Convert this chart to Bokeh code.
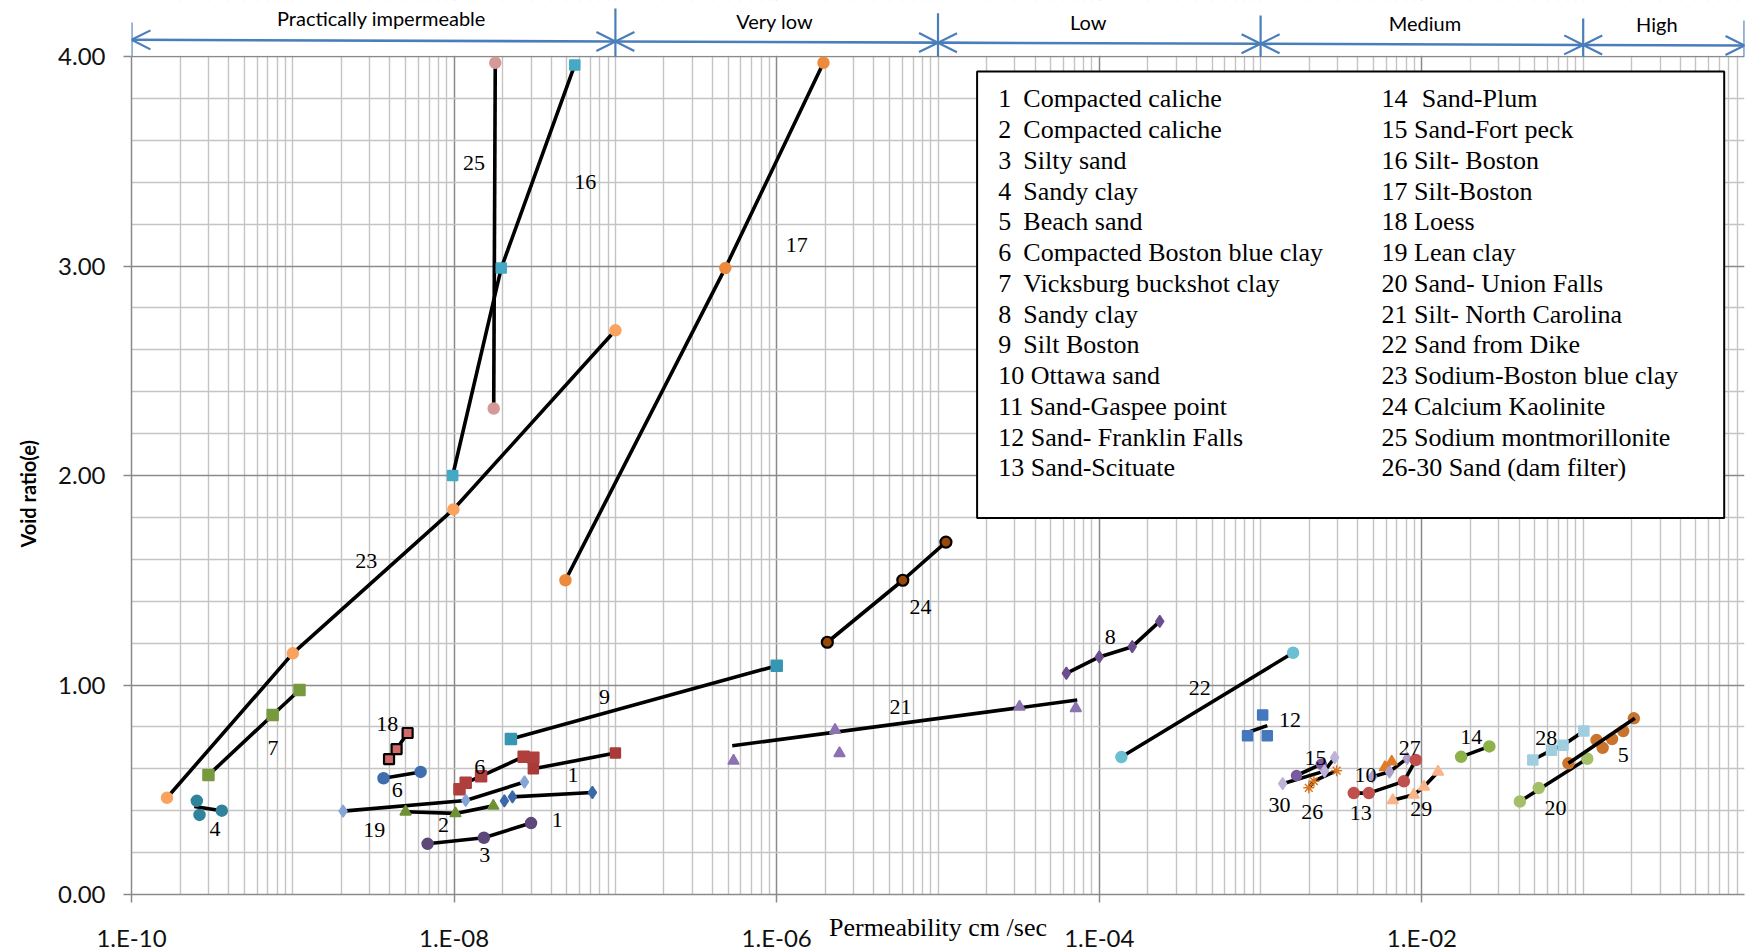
import math

from bokeh.core.properties import value
from bokeh.embed import file_html
from bokeh.models import (Arrow, CustomJSTickFormatter, FixedTicker, OpenHead,
                          PrintfTickFormatter, Range1d, Title)
from bokeh.plotting import figure
from bokeh.resources import INLINE

# ------------------------------------------------------------------
# Permeability k (cm/sec) and void ratio e, one pair of lists per soil.
# "_fit" lists hold the straight line drawn through a scattered set.
# ------------------------------------------------------------------
s1_k = [2.05e-8, 2.3e-8, 7.2e-8]
s1_e = [0.447, 0.466, 0.487]
s1b_k = [3.1e-8, 1.0e-7]
s1b_e = [0.600, 0.675]
s2_k = [5.0e-9, 1.02e-8, 1.75e-8]
s2_e = [0.395, 0.387, 0.423]
s3_k = [6.85e-9, 1.53e-8, 3.0e-8]
s3_e = [0.242, 0.271, 0.341]
s4_k = [2.54e-10, 2.64e-10, 3.63e-10]
s4_e = [0.447, 0.380, 0.400]
s4_fit_k = [2.45e-10, 3.63e-10]
s4_fit_e = [0.420, 0.400]
s5_k = [8.1e-2, 0.121, 0.132, 0.151, 0.177, 0.206]
s5_e = [0.626, 0.737, 0.700, 0.742, 0.780, 0.841]
s5_fit_k = [8.1e-2, 0.209]
s5_fit_e = [0.626, 0.841]
s6_k = [3.65e-9, 6.2e-9]
s6_e = [0.555, 0.585]
s6b_k = [1.08e-8, 1.18e-8, 1.47e-8, 2.7e-8, 3.1e-8]
s6b_e = [0.502, 0.533, 0.565, 0.658, 0.653]
s6b_fit_k = [1.18e-8, 1.47e-8, 2.7e-8]
s6b_fit_e = [0.533, 0.565, 0.658]
s7_k = [3.0e-10, 7.5e-10, 1.1e-9]
s7_e = [0.570, 0.857, 0.976]
s8_k = [6.25e-5, 1.0e-4, 1.6e-4, 2.37e-4]
s8_e = [1.056, 1.134, 1.183, 1.304]
s9_k = [2.25e-8, 1.0e-6]
s9_e = [0.742, 1.092]
s10_k = [5.9e-3, 6.5e-3]
s10_e = [0.607, 0.634]
s12_k = [8.3e-4, 1.03e-3, 1.1e-3]
s12_e = [0.758, 0.857, 0.758]
s12_fit_k = [8.2e-4, 1.1e-3]
s12_fit_e = [0.772, 0.806]
s13_k = [3.78e-3, 4.69e-3, 7.73e-3, 9.17e-3]
s13_e = [0.484, 0.484, 0.540, 0.642]
s14_k = [1.75e-2, 2.62e-2]
s14_e = [0.657, 0.707]
s15_k = [1.67e-3, 2.38e-3]
s15_e = [0.568, 0.622]
s16_k = [9.8e-9, 1.96e-8, 5.6e-8]
s16_e = [2.00, 2.99, 3.96]
s17_k = [4.9e-8, 4.8e-7, 1.95e-6]
s17_e = [1.50, 2.99, 3.97]
s18_k = [3.95e-9, 4.4e-9, 5.15e-9]
s18_e = [0.646, 0.694, 0.771]
s19_k = [2.05e-9, 1.18e-8, 2.73e-8]
s19_e = [0.398, 0.449, 0.537]
s20_k = [4.05e-2, 5.3e-2, 0.106]
s20_e = [0.444, 0.508, 0.648]
s20_fit_k = [4.05e-2, 0.101]
s20_fit_e = [0.444, 0.638]
s21_k = [5.4e-7, 2.3e-6, 2.45e-6, 3.2e-5, 7.15e-5]
s21_e = [0.638, 0.785, 0.674, 0.896, 0.889]
s21_fit_k = [5.3e-7, 7.3e-5]
s21_fit_e = [0.710, 0.928]
s22_k = [1.37e-4, 1.59e-3]
s22_e = [0.656, 1.154]
s23_k = [1.66e-10, 1.0e-9, 9.9e-9, 1.0e-7]
s23_e = [0.462, 1.151, 1.838, 2.693]
s24_k = [2.06e-6, 6.05e-6, 1.12e-5]
s24_e = [1.204, 1.500, 1.682]
s25_k = [1.80e-8, 1.76e-8]
s25_e = [3.97, 2.32]
s26_k = [1.99e-3, 2.14e-3, 2.96e-3]
s26_e = [0.509, 0.541, 0.591]
s27_k = [4.95e-3, 6.3e-3, 8.1e-3]
s27_e = [0.562, 0.586, 0.650]
s28_k = [4.87e-2, 6.36e-2, 7.5e-2, 0.101]
s28_e = [0.642, 0.689, 0.712, 0.780]
s29_k = [6.6e-3, 8.9e-3, 1.03e-2, 1.26e-2]
s29_e = [0.450, 0.476, 0.514, 0.586]
s30_k = [1.37e-3, 2.49e-3, 2.88e-3]
s30_e = [0.529, 0.589, 0.654]

# Permeability classes shown above the chart
CLASS_NAMES = ["Practically impermeable", "Very low", "Low", "Medium", "High"]
CLASS_EDGES = [1e-10, 1e-7, 1e-5, 1e-3, 1e-1, 1e0]

# Key entries (number, soil)
KEY_LEFT = [("1", "Compacted caliche"), ("2", "Compacted caliche"),
            ("3", "Silty sand"), ("4", "Sandy clay"), ("5", "Beach sand"),
            ("6", "Compacted Boston blue clay"), ("7", "Vicksburg buckshot clay"),
            ("8", "Sandy clay"), ("9", "Silt Boston"), ("10", "Ottawa sand"),
            ("11", "Sand-Gaspee point"), ("12", "Sand- Franklin Falls"),
            ("13", "Sand-Scituate")]
KEY_RIGHT = [("14", "Sand-Plum"), ("15", "Sand-Fort peck"), ("16", "Silt- Boston"),
             ("17", "Silt-Boston"), ("18", "Loess"), ("19", "Lean clay"),
             ("20", "Sand- Union Falls"), ("21", "Silt- North Carolina"),
             ("22", "Sand from Dike"), ("23", "Sodium-Boston blue clay"),
             ("24", "Calcium Kaolinite"), ("25", "Sodium montmorillonite"),
             ("26-30", "Sand (dam filter)")]

# ------------------------------------------------------------------
# Series table: points, marker, colour, and the black line drawn for it
# ------------------------------------------------------------------
series = [
    # (k, e, marker, size, fill, outline, line_k, line_e)
    (s23_k, s23_e, "circle", 11, "#F9A35E", None, s23_k, s23_e),
    (s16_k, s16_e, "square", 10, "#43A9C4", None, s16_k, s16_e),
    (s25_k, s25_e, "circle", 11, "#D59A98", None, s25_k, s25_e),
    (s17_k, s17_e, "circle", 11, "#EE8A3C", None, s17_k, s17_e),
    (s7_k, s7_e, "square", 11, "#779A3E", None, s7_k, s7_e),
    (s4_k, s4_e, "circle", 11, "#2F849B", None, s4_fit_k, s4_fit_e),
    (s18_k, s18_e, "square", 10, "#D26A6A", "black", s18_k, s18_e),
    (s6_k, s6_e, "circle", 11, "#3F6EAF", None, s6_k, s6_e),
    (s6b_k, s6b_e, "square", 11, "#AF3F3D", None, s6b_fit_k, s6b_fit_e),
    (s1b_k, s1b_e, "square", 10, "#A83A38", None, s1b_k, s1b_e),
    (s19_k, s19_e, "diamond", 12, "#86A5D6", None, s19_k, s19_e),
    (s1_k, s1_e, "diamond", 12, "#3A68A8", None, s1_k[1:], s1_e[1:]),
    (s2_k, s2_e, "triangle", 11, "#6F9035", None, s2_k, s2_e),
    (s3_k, s3_e, "circle", 11, "#5E4879", None, s3_k, s3_e),
    (s9_k, s9_e, "square", 11, "#3797B2", None, s9_k, s9_e),
    (s24_k, s24_e, "circle", 11, "#984807", "black", s24_k, s24_e),
    (s21_k, s21_e, "triangle", 11, "#8B72B1", None, s21_fit_k, s21_fit_e),
    (s8_k, s8_e, "diamond", 12, "#6A4E8C", None, s8_k, s8_e),
    (s22_k, s22_e, "circle", 11, "#6CBFD2", None, s22_k, s22_e),
    (s12_k, s12_e, "square", 10, "#4477BB", None, s12_fit_k, s12_fit_e),
    (s15_k, s15_e, "circle", 10, "#7A5A9E", None, s15_k, s15_e),
    (s30_k, s30_e, "diamond", 12, "#BDB3D9", None, s30_k, s30_e),
    (s26_k, s26_e, "asterisk", 11, "#D9761F", None, s26_k, s26_e),
    (s10_k, s10_e, "triangle", 11, "#E07B28", None, s10_k, s10_e),
    (s27_k, s27_e, "diamond", 12, "#ACA0C8", None, s27_k, s27_e),
    (s13_k, s13_e, "circle", 11, "#C0504D", None, s13_k, s13_e),
    (s29_k, s29_e, "triangle", 11, "#FAB48A", None, s29_k, s29_e),
    (s14_k, s14_e, "circle", 11, "#8DB24A", None, s14_k, s14_e),
    (s28_k, s28_e, "square", 10, "#A0CEE0", None, s28_k, s28_e),
    (s20_k, s20_e, "circle", 11, "#A3C068", None, s20_fit_k, s20_fit_e),
    (s5_k, s5_e, "circle", 11, "#C8742E", None, s5_fit_k, s5_fit_e),
]

# Curve numbers written next to the curves: (text, k, e)
curve_tags = [
    ("23", 2.85e-9, 1.593), ("25", 1.33e-8, 3.49), ("16", 6.5e-8, 3.40),
    ("17", 1.33e-6, 3.10), ("7", 7.55e-10, 0.698), ("4", 3.29e-10, 0.315),
    ("18", 3.85e-9, 0.814), ("6", 4.44e-9, 0.498), ("6", 1.44e-8, 0.61),
    ("1", 5.45e-8, 0.57), ("1", 4.36e-8, 0.355), ("9", 8.55e-8, 0.944),
    ("19", 3.2e-9, 0.307), ("2", 8.6e-9, 0.331), ("3", 1.55e-8, 0.188),
    ("24", 7.8e-6, 1.371), ("21", 5.85e-6, 0.893), ("8", 1.17e-4, 1.231),
    ("22", 4.2e-4, 0.987), ("12", 1.52e-3, 0.833), ("15", 2.19e-3, 0.65),
    ("30", 1.31e-3, 0.427), ("26", 2.09e-3, 0.395), ("10", 4.47e-3, 0.57),
    ("27", 8.4e-3, 0.697), ("13", 4.17e-3, 0.39), ("29", 9.9e-3, 0.406),
    ("14", 2.02e-2, 0.753), ("28", 5.9e-2, 0.748), ("5", 0.177, 0.666),
    ("20", 6.73e-2, 0.411),
]

# ------------------------------------------------------------------
# Layout: one frame holds the class band (above e = 4) and the chart
# ------------------------------------------------------------------
W, H = 1748, 952
LEFT, RIGHT, BOTTOM = 131, 4, 58
GRID_TOP = 56                      # page row of the e = 4.00 line
K_MIN, K_MAX = 1e-10, 1.0
E_MAX = 4.0

FRAME_W = W - LEFT - RIGHT
FRAME_H = H - BOTTOM
PX_DEC = FRAME_W / math.log10(K_MAX / K_MIN)
PX_UNIT = (FRAME_H - GRID_TOP) / E_MAX
E_TOP = FRAME_H / PX_UNIT


def k_at(px):
    """Permeability at a page x position inside the frame."""
    return K_MIN * 10 ** ((px - LEFT) / PX_DEC)


def e_at(py):
    """Void ratio at a page y position inside the frame."""
    return E_TOP - py / PX_UNIT


MAJOR_GRID = "#8A8A8A"
MINOR_GRID = "#C4C4C4"
SERIF = "Liberation Serif"
SANS = "Lato"
BLUE = "#4A7EBB"

p = figure(width=W, height=H, x_axis_type="log",
           x_range=Range1d(K_MIN, K_MAX), y_range=Range1d(0, E_TOP),
           output_backend="svg", toolbar_location=None, title=None,
           min_border_left=LEFT, min_border_right=RIGHT,
           min_border_top=0, min_border_bottom=BOTTOM)
p.outline_line_color = None
p.background_fill_color = "white"
p.border_fill_color = "white"

x_major = [10.0 ** n for n in range(-10, -1, 2)]
x_minor = [d * 10.0 ** n for n in range(-10, 0) for d in range(1, 10)
           if not (d == 1 and n % 2 == 0)] + [1.0]
p.xaxis.ticker = FixedTicker(ticks=x_major, minor_ticks=x_minor)
p.xaxis.formatter = CustomJSTickFormatter(code="""
    const n = Math.round(Math.log10(tick));
    const a = Math.abs(n);
    return "1.E" + (n < 0 ? "-" : "+") + (a < 10 ? "0" + a : "" + a);
""")
y_major = [0, 1, 2, 3, 4]
y_minor = [round(0.2 * i, 1) for i in range(1, 20) if i % 5]
p.yaxis.ticker = FixedTicker(ticks=y_major, minor_ticks=y_minor)
p.yaxis.formatter = PrintfTickFormatter(format="%.2f")
p.yaxis.bounds = (0, E_MAX)

for ax in (p.xaxis, p.yaxis):
    ax.axis_line_color = MAJOR_GRID
    ax.axis_line_width = 1.5
    ax.major_tick_line_color = MAJOR_GRID
    ax.major_tick_line_width = 1.5
    ax.major_tick_out = 8
    ax.major_tick_in = 0
    ax.minor_tick_line_color = None
    ax.major_label_text_font = SANS
    ax.major_label_text_font_size = "24px"
    ax.major_label_text_color = "#111111"
p.xaxis.major_label_standoff = 20
p.yaxis.major_label_standoff = 18

p.xaxis.axis_label = "Permeability cm /sec"
p.xaxis.axis_label_text_font = SERIF
p.xaxis.axis_label_text_font_style = "normal"
p.xaxis.axis_label_text_font_size = "26px"
p.xaxis.axis_label_text_color = "black"
p.xaxis.axis_label_standoff = -42

# y title sits below the middle of the axis: start it at a fixed offset
# from the bottom of the frame and let it run upwards
p.add_layout(Title(text="Void ratio(e)", align="left", offset=347,
                   vertical_align="middle", standoff=29,
                   text_font=SANS, text_font_style="bold",
                   text_font_size="20px", text_color="black"), "left")

for g in (p.xgrid, p.ygrid):
    g.grid_line_color = MAJOR_GRID
    g.grid_line_width = 1.5
    g.minor_grid_line_color = MINOR_GRID
    g.minor_grid_line_width = 1.4

# black lines under the markers, except the fit that crosses its points
for k, e, marker, size, fill, outline, lk, le in series:
    if lk is not s5_fit_k:
        p.line(lk, le, line_color="black", line_width=3.6)
for k, e, marker, size, fill, outline, lk, le in series:
    p.scatter(k, e, marker=marker, size=size, fill_color=fill,
              line_color=outline if outline else fill,
              line_width=2.2 if outline else 1.5)
p.line(s5_fit_k, s5_fit_e, line_color="black", line_width=3.6)

p.text(x=[t[1] for t in curve_tags], y=[t[2] for t in curve_tags],
       text=[t[0] for t in curve_tags], text_font=value(SERIF),
       text_font_size="22px", text_align="center", text_baseline="middle",
       text_color="black")

# key box
box_l, box_r, box_t, box_b = 976.6, 1723.7, 71.0, 517.5
p.quad(left=[k_at(box_l)], right=[k_at(box_r)], top=[e_at(box_t)],
       bottom=[e_at(box_b)], fill_color="white", line_color="black",
       line_width=2)
row0, row_step = 98.3, 30.75
col1_x, col1_name_x = 997.7, 1022.8
col2_x, col2_wide_name_x = 1381.0, 1421.3
kx, ky, kt = [], [], []
for i, (num, name) in enumerate(KEY_LEFT):
    y = e_at(row0 + i * row_step)
    if len(num) == 1:
        kx += [k_at(col1_x), k_at(col1_name_x)]
        ky += [y, y]
        kt += [num, name]
    else:
        kx.append(k_at(col1_x))
        ky.append(y)
        kt.append(num + " " + name)
for i, (num, name) in enumerate(KEY_RIGHT):
    y = e_at(row0 + i * row_step)
    if num == "14":
        kx += [k_at(col2_x), k_at(col2_wide_name_x)]
        ky += [y, y]
        kt += [num, name]
    else:
        kx.append(k_at(col2_x))
        ky.append(y)
        kt.append(num + " " + name)
p.text(x=kx, y=ky, text=kt, text_font=value(SERIF), text_font_size="26px",
       text_align="left", text_baseline="middle", text_color="black")

# ------------------------------------------------------------------
# Permeability class band above the e = 4.00 line
# ------------------------------------------------------------------
p.quad(left=[K_MIN], right=[K_MAX], bottom=[E_MAX + 0.8 / PX_UNIT],
       top=[E_TOP], fill_color="white", line_color=None)


def band_row(k):
    f = math.log10(k / K_MIN) / math.log10(K_MAX / K_MIN)
    return 39.3 + 5.7 * f


sep_tops = [22, 8, 12.7, 15, 18, 20]
p.segment(x0=CLASS_EDGES, y0=[e_at(t) for t in sep_tops], x1=CLASS_EDGES,
          y1=[E_MAX] * len(CLASS_EDGES), line_color=BLUE, line_width=2.2)
for a, b in zip(CLASS_EDGES[:-1], CLASS_EDGES[1:]):
    p.add_layout(Arrow(
        start=OpenHead(size=19, line_color=BLUE, line_width=2.2),
        end=OpenHead(size=19, line_color=BLUE, line_width=2.2),
        x_start=a, y_start=e_at(band_row(a)), x_end=b, y_end=e_at(band_row(b)),
        line_color=BLUE, line_width=2.6))

# class names sit roughly over the middle of each span (small nudges in px)
name_nudge_x = [8, -2, -11, 3, -7]
name_nudge_y = [-2, 0, 0, 0, 0]
mids = [math.sqrt(a * b) for a, b in zip(CLASS_EDGES[:-1], CLASS_EDGES[1:])]
name_x = [m * 10 ** (dx / PX_DEC) for m, dx in zip(mids, name_nudge_x)]
name_y = [e_at(band_row(m) - 21 + dy) for m, dy in zip(mids, name_nudge_y)]
p.text(x=name_x, y=name_y, text=CLASS_NAMES,
       text_font=value(SANS), text_font_size="20px", text_align="center",
       text_baseline="middle", text_color="black")

open("out.html", "w").write(file_html(p, INLINE))
